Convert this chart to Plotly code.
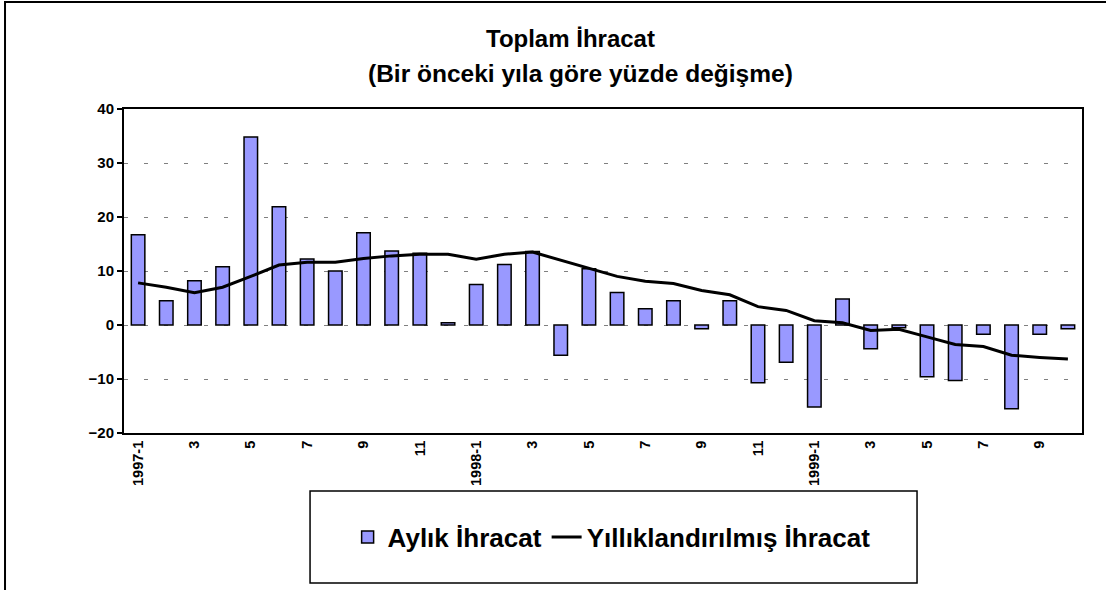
import plotly.graph_objects as go

categories = [f"1997-{m}" for m in range(1, 13)] + [f"1998-{m}" for m in range(1, 13)] + [f"1999-{m}" for m in range(1, 11)]
tick_labels = ["1997-1", "3", "5", "7", "9", "11",
               "1998-1", "3", "5", "7", "9", "11",
               "1999-1", "3", "5", "7", "9"]
aylik = [16.7, 4.5, 8.2, 10.8, 34.8, 21.9, 12.2, 10.0, 17.1, 13.7, 13.3, 0.4,
         7.5, 11.2, 13.6, -5.6, 10.4, 6.0, 3.0, 4.5, -0.7, 4.5, -10.7, -6.9,
         -15.2, 4.8, -4.4, -0.5, -9.6, -10.3, -1.7, -15.5, -1.7, -0.7]
yillik = [7.8, 7.0, 6.0, 7.0, 9.0, 11.1, 11.6, 11.6, 12.3, 12.8, 13.1, 13.1,
          12.2, 13.1, 13.5, 12.0, 10.5, 9.0, 8.1, 7.7, 6.4, 5.6, 3.4, 2.7,
          0.8, 0.4, -1.0, -0.8, -2.2, -3.6, -4.0, -5.6, -6.0, -6.3]
title_lines = ["Toplam İhracat", "(Bir önceki yıla göre yüzde değişme)"]
y_range = [-20, 40]

FONT = "Arial, 'Liberation Sans', sans-serif"

fig = go.Figure()
fig.add_trace(go.Bar(
    x=categories, y=aylik, name="Aylık İhracat",
    marker=dict(color="#9999FF", line=dict(color="black", width=1.5)),
))
fig.add_trace(go.Scatter(
    x=categories, y=yillik, name="Yıllıklandırılmış İhracat", mode="lines",
    line=dict(color="black", width=3),
))

n = len(categories)
zero_pos = (0 - y_range[0]) / (y_range[1] - y_range[0])

fig.update_layout(
    width=1106, height=590,
    margin=dict(l=124, r=24, t=109, b=157, autoexpand=False),
    paper_bgcolor="white", plot_bgcolor="white",
    bargap=0.52,
    font=dict(family=FONT, color="black"),
    xaxis=dict(
        type="category", categoryorder="array", categoryarray=categories,
        tickvals=categories[::2], ticktext=[f"<b>{t}</b>" for t in tick_labels],
        tickangle=-90, tickfont=dict(size=14.5, family=FONT, color="black"),
        ticks="", showgrid=False, zeroline=False,
        showline=True, linecolor="black", linewidth=2, mirror=True,
    ),
    xaxis2=dict(
        overlaying="x", anchor="free", position=zero_pos,
        range=[-0.5, n - 0.5],
        tickvals=[i + 0.5 for i in range(n - 1)],
        ticks="outside", ticklen=5, tickwidth=2, tickcolor="black",
        showticklabels=False, showgrid=False, zeroline=False,
        showline=True, linecolor="black", linewidth=2,
    ),
    yaxis=dict(
        range=y_range, dtick=10,
        tickfont=dict(size=15, family=FONT, color="black", weight="bold"),
        ticks="outside", ticklen=5, tickwidth=2, tickcolor="black",
        showgrid=True, gridcolor="#808080", gridwidth=1, griddash="4px,16px",
        zeroline=False,
        showline=True, linecolor="black", linewidth=2, mirror=True,
    ),
    showlegend=True,
    legend=dict(
        orientation="h", x=0.509, xanchor="center", y=-0.321, yanchor="middle",
        font=dict(size=26, family=FONT, color="black", weight="bold"),
        bgcolor="rgba(0,0,0,0)", borderwidth=0,
        traceorder="normal",
    ),
    annotations=[
        dict(text=f"<b>{title_lines[0]}</b>", xref="paper", yref="paper",
             x=0.4656, y=1.219, xanchor="center", yanchor="middle",
             showarrow=False, font=dict(size=24, family=FONT, color="black")),
        dict(text=f"<b>{title_lines[1]}</b>", xref="paper", yref="paper",
             x=0.4760, y=1.111, xanchor="center", yanchor="middle",
             showarrow=False, font=dict(size=24.5, family=FONT, color="black")),
    ],
    shapes=[
        dict(type="rect", xref="paper", yref="paper",
             x0=0.1942, x1=0.8278, y0=-0.463, y1=-0.179,
             line=dict(color="black", width=1.5), fillcolor="rgba(0,0,0,0)"),
        dict(type="rect", xref="paper", yref="paper",
             x0=-0.1242, x1=1.05, y0=-0.52, y1=1.330,
             line=dict(color="black", width=2), fillcolor="rgba(0,0,0,0)"),
    ],
)

fig.write_html("out.html", config={"displayModeBar": False},
               post_script="document.body.style.margin='0';")
